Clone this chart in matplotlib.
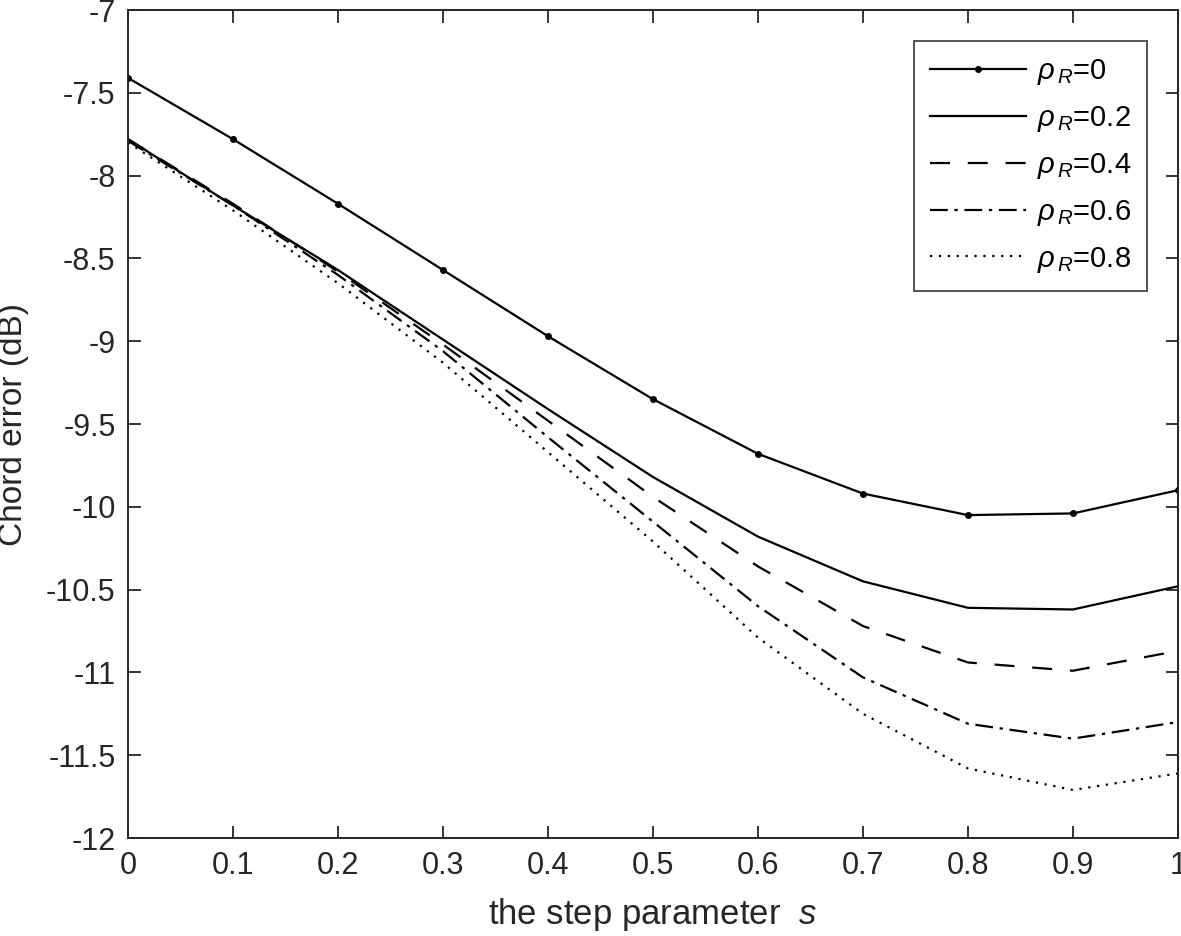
import matplotlib
matplotlib.use("Agg")
import matplotlib.pyplot as plt

plt.rcParams['font.family'] = ['Liberation Sans', 'DejaVu Sans']
plt.rcParams['mathtext.fontset'] = 'custom'
plt.rcParams['mathtext.rm'] = 'Liberation Sans'
plt.rcParams['mathtext.it'] = 'Liberation Sans:italic'

# step parameter s
s = [0, 0.1, 0.2, 0.3, 0.4, 0.5, 0.6, 0.7, 0.8, 0.9, 1.0]

# chord error (dB) for each rho_R
err_00 = [-7.41, -7.78, -8.17, -8.57, -8.97, -9.35, -9.68, -9.92, -10.05, -10.04, -9.90]
err_02 = [-7.78, -8.18, -8.57, -8.99, -9.41, -9.82, -10.18, -10.45, -10.61, -10.62, -10.48]
err_04 = [-7.78, -8.17, -8.58, -9.02, -9.48, -9.94, -10.36, -10.72, -10.94, -10.99, -10.87]
err_06 = [-7.79, -8.18, -8.60, -9.06, -9.58, -10.09, -10.60, -11.03, -11.31, -11.40, -11.30]
err_08 = [-7.80, -8.21, -8.65, -9.13, -9.67, -10.21, -10.79, -11.25, -11.58, -11.71, -11.61]

labels = [r'$\rho_{\,R}$=0', r'$\rho_{\,R}$=0.2', r'$\rho_{\,R}$=0.4',
          r'$\rho_{\,R}$=0.6', r'$\rho_{\,R}$=0.8']

fig = plt.figure(figsize=(11.81, 9.36), dpi=100)
ax = fig.add_axes([0.1084, 0.1047, 0.889, 0.8846])

lw = 1.6
ax.plot(s, err_00, color='black', lw=lw, marker='.', markersize=8, label=labels[0])
ax.plot(s, err_02, color='black', lw=lw, label=labels[1])
ax.plot(s, err_04, color='black', lw=lw, dashes=(9, 8), label=labels[2])
ax.plot(s, err_06, color='black', lw=lw, dashes=(8, 3, 1.5, 3), label=labels[3])
ax.plot(s, err_08, color='black', lw=lw, dashes=(1, 3), label=labels[4])

ax.set_xlim(0, 1)
ax.set_ylim(-12, -7)
ax.set_xticks([0, 0.1, 0.2, 0.3, 0.4, 0.5, 0.6, 0.7, 0.8, 0.9, 1])
ax.set_xticklabels(['0', '0.1', '0.2', '0.3', '0.4', '0.5', '0.6', '0.7', '0.8', '0.9', '1'])
ax.set_yticks([-12, -11.5, -11, -10.5, -10, -9.5, -9, -8.5, -8, -7.5, -7])
ax.set_yticklabels(['-12', '-11.5', '-11', '-10.5', '-10', '-9.5', '-9', '-8.5', '-8', '-7.5', '-7'])

ax.tick_params(direction='in', length=9, width=1.3, labelsize=22, colors='#262626',
               top=True, right=True, pad=9)
for sp in ax.spines.values():
    sp.set_color('#262626')
    sp.set_linewidth(1.4)

ax.set_xlabel(r'the step parameter  $\it{s}$', fontsize=25, color='#262626')
ax.set_ylabel('Chord error (dB)', fontsize=24, color='#262626')
ax.xaxis.set_label_coords(0.5, -0.07)
ax.yaxis.set_label_coords(-0.094, 0.5)

leg = ax.legend(loc='upper right', bbox_to_anchor=(0.9705, 0.9626), borderaxespad=0,
                fontsize=21, handlelength=3.3, frameon=True, fancybox=False,
                edgecolor='#262626', borderpad=0.55, labelspacing=0.58, handletextpad=0.35)
leg.get_frame().set_linewidth(1.4)

fig.savefig('out.png', dpi=100)
